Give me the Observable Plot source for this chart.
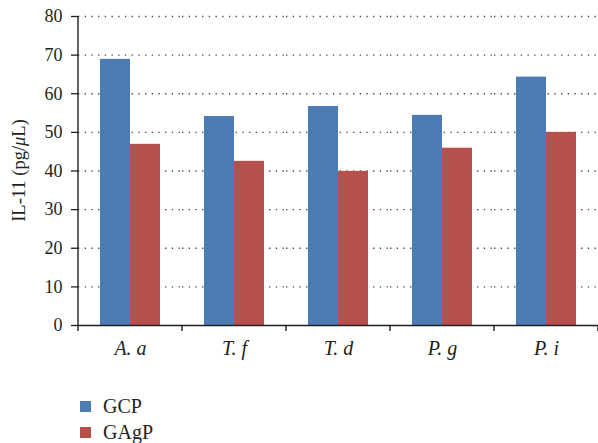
<!DOCTYPE html>
<html>
<head>
<meta charset="utf-8">
<script src="https://cdn.jsdelivr.net/npm/d3@7"></script>
<script src="https://cdn.jsdelivr.net/npm/@observablehq/plot@0.6"></script>
<style>
  html, body { margin: 0; padding: 0; background: #fff; }
  #chart { width: 598px; }
  .legend { font-family: "Liberation Serif", "Times New Roman", serif; font-size: 20px; color: #231f20; margin-left: 80px; margin-top: 28px; }
  .legend .item { display: flex; align-items: center; height: 26px; }
  .legend .sw { width: 11px; height: 11px; margin-right: 12px; }
</style>
</head>
<body>
<div id="chart"></div>
<script>
const categories = ["A. a", "T. f", "T. d", "P. g", "P. i"];
const series = ["GCP", "GAgP"];
const gcpValues = [68.9, 54.1, 56.7, 54.4, 64.3];
const gagpValues = [46.9, 42.5, 39.9, 45.9, 50.0];
const yTicks = [0, 10, 20, 30, 40, 50, 60, 70, 80];
const colors = ["#4d7bb4", "#b74f4c"];

const rows = [];
categories.forEach((c, i) => {
  rows.push({category: c, series: series[0], value: gcpValues[i]});
  rows.push({category: c, series: series[1], value: gagpValues[i]});
});

const font = '"Liberation Serif", "Times New Roman", serif';
const ink = "#231f20";

const chart = Plot.plot({
  width: 598,
  height: 365,
  marginTop: 16,
  marginBottom: 40,
  marginLeft: 78,
  marginRight: 0,
  style: {fontFamily: font, color: ink, background: "#fff"},
  fx: {domain: categories, padding: 0, label: null},
  x: {domain: series, paddingInner: 0, paddingOuter: 0.705, axis: null},
  y: {domain: [0, 80], label: null},
  color: {domain: series, range: colors},
  marks: [
    Plot.gridY(yTicks.filter(d => d > 0), {stroke: "#444", strokeOpacity: 1, strokeWidth: 1.3, strokeDasharray: "1.3,5.4"}),
    Plot.barY(rows, {fx: "category", x: "series", y: "value", fill: "series"}),
    Plot.ruleY([0], {stroke: ink, strokeWidth: 1.4}),
    Plot.axisY({ticks: yTicks, tickSize: 7, tickPadding: 9, fontSize: 18, label: null, stroke: ink, strokeWidth: 1.3}),
    Plot.axisFx({anchor: "bottom", tickSize: 0, tickPadding: 15, fontSize: 20, fontStyle: "italic", label: null})
  ]
});

const svg = d3.select(chart);
const fx = chart.scale("fx");
const y = chart.scale("y");
const y0 = y.apply(0), yTop = y.apply(80);
const left = fx.apply(categories[0]);
const bw = fx.bandwidth;
const bounds = categories.map(c => fx.apply(c)).concat([fx.apply(categories[categories.length - 1]) + bw]);

const g = svg.append("g").attr("stroke", ink).attr("stroke-width", 1.4);
g.append("line").attr("x1", left).attr("x2", left).attr("y1", yTop).attr("y2", y0 + 0.7);
bounds.forEach(b => {
  g.append("line").attr("x1", b).attr("x2", b).attr("y1", y0).attr("y2", y0 + 6);
});

const lab = svg.append("text")
  .attr("transform", `translate(25,${(y0 + yTop) / 2}) rotate(-90)`)
  .attr("text-anchor", "middle")
  .attr("fill", ink)
  .attr("font-family", font)
  .attr("font-size", 18.5);
lab.append("tspan").text("IL-11 (pg/");
lab.append("tspan").attr("font-style", "italic").text("μ");
lab.append("tspan").text("L)");

document.getElementById("chart").appendChild(chart);

const legend = d3.select("#chart").append("div").attr("class", "legend");
series.forEach((s, i) => {
  const it = legend.append("div").attr("class", "item");
  it.append("div").attr("class", "sw").style("background", colors[i]);
  it.append("span").text(s);
});
</script>
</body>
</html>
